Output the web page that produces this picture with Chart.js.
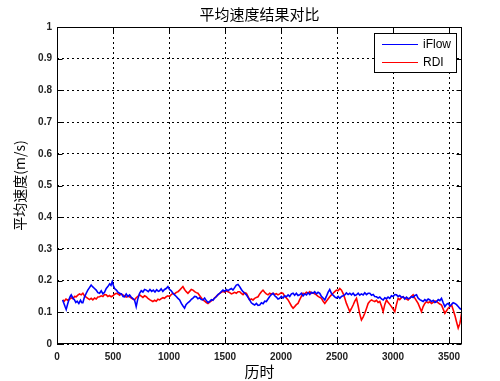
<!DOCTYPE html>
<html><head><meta charset="utf-8">
<script src="https://cdn.jsdelivr.net/npm/chart.js@4/dist/chart.umd.min.js"></script>
<style>html,body{margin:0;padding:0;background:#fff}#wrap{width:500px;height:381px}</style>
</head><body><div id="wrap"><canvas id="c" width="500" height="381"></canvas></div>
<script>
const chartTitle = '平均速度结果对比';
const xTitle = '历时';
const yTitle = '平均速度(m/s)';
const xTicks = [0, 500, 1000, 1500, 2000, 2500, 3000, 3500];
const yTicks = [0, 0.1, 0.2, 0.3, 0.4, 0.5, 0.6, 0.7, 0.8, 0.9, 1];
const xMin = 0, xMax = 3616;
const seriesNames = ['iFlow', 'RDI'];
const seriesColors = ['#0000ff', '#ff0000'];

const iflowX = [50,62,72,82,95,108,118,127,140,155,168,180,195,210,222,231,245,261,275,290,305,320,335,350,365,380,395,410,424,440,454,470,482,493,505,514,530,545,559,575,590,603,618,633,648,662,678,692,700,707,720,737,752,767,782,797,815,830,845,860,875,890,905,916,930,945,960,975,990,1005,1020,1035,1050,1065,1080,1095,1110,1125,1139,1152,1168,1184,1200,1214,1229,1244,1258,1273,1288,1303,1318,1333,1348,1363,1378,1392,1407,1422,1437,1452,1467,1482,1497,1512,1527,1542,1557,1571,1586,1601,1616,1631,1646,1661,1676,1691,1705,1720,1735,1750,1765,1780,1795,1810,1825,1840,1855,1869,1884,1899,1914,1929,1944,1958,1973,1988,2003,2018,2033,2048,2063,2078,2093,2108,2122,2137,2152,2167,2182,2197,2212,2227,2242,2257,2271,2286,2301,2316,2331,2346,2361,2376,2391,2405,2420,2435,2450,2465,2480,2495,2510,2525,2540,2554,2569,2584,2599,2614,2629,2644,2659,2674,2689,2703,2718,2733,2748,2763,2778,2793,2808,2823,2837,2853,2867,2882,2897,2912,2927,2942,2956,2971,2986,3001,3016,3031,3046,3060,3075,3090,3105,3120,3135,3150,3165,3180,3195,3210,3224,3239,3254,3269,3284,3299,3314,3329,3344,3359,3374,3389,3404,3418,3433,3448,3463,3478,3493,3508,3523,3537,3552,3567,3582,3597,3612];
const iflowY = [0.139,0.128,0.118,0.109,0.126,0.141,0.150,0.155,0.146,0.140,0.131,0.135,0.128,0.138,0.130,0.130,0.148,0.160,0.170,0.178,0.186,0.180,0.175,0.170,0.162,0.160,0.168,0.158,0.163,0.175,0.181,0.190,0.185,0.197,0.183,0.175,0.170,0.163,0.160,0.158,0.150,0.149,0.158,0.150,0.155,0.148,0.143,0.139,0.128,0.118,0.140,0.160,0.168,0.164,0.172,0.170,0.165,0.172,0.166,0.170,0.164,0.171,0.166,0.168,0.174,0.166,0.172,0.175,0.181,0.172,0.168,0.160,0.155,0.150,0.144,0.139,0.128,0.120,0.113,0.124,0.130,0.134,0.141,0.145,0.150,0.149,0.143,0.146,0.140,0.139,0.145,0.137,0.131,0.134,0.140,0.138,0.145,0.149,0.156,0.160,0.165,0.170,0.166,0.172,0.168,0.172,0.175,0.170,0.178,0.186,0.188,0.181,0.172,0.165,0.160,0.155,0.147,0.139,0.130,0.126,0.123,0.128,0.122,0.123,0.130,0.127,0.135,0.134,0.142,0.150,0.156,0.160,0.152,0.148,0.142,0.144,0.150,0.145,0.152,0.149,0.155,0.150,0.158,0.160,0.154,0.160,0.153,0.155,0.160,0.152,0.158,0.155,0.162,0.156,0.163,0.160,0.165,0.158,0.163,0.160,0.150,0.145,0.139,0.150,0.163,0.172,0.160,0.154,0.149,0.145,0.150,0.144,0.150,0.152,0.155,0.161,0.156,0.160,0.155,0.160,0.153,0.155,0.160,0.154,0.158,0.155,0.162,0.156,0.160,0.160,0.154,0.156,0.150,0.149,0.145,0.148,0.142,0.139,0.146,0.143,0.148,0.144,0.152,0.150,0.156,0.155,0.150,0.153,0.147,0.149,0.142,0.148,0.143,0.144,0.150,0.147,0.153,0.155,0.145,0.140,0.137,0.134,0.140,0.136,0.142,0.139,0.134,0.138,0.131,0.134,0.140,0.137,0.144,0.130,0.118,0.125,0.128,0.120,0.125,0.130,0.128,0.124,0.118,0.112,0.109];

const rdiX = [50,65,80,96,112,127,142,157,171,186,201,216,231,245,260,275,290,305,320,335,350,365,380,395,410,424,439,454,469,484,499,514,529,544,559,573,588,603,618,633,648,663,678,692,707,722,737,752,767,782,797,812,827,841,856,871,886,901,916,931,946,960,975,990,1005,1020,1035,1050,1065,1080,1095,1110,1124,1139,1154,1169,1184,1199,1214,1229,1244,1258,1273,1288,1303,1318,1333,1348,1363,1378,1392,1407,1422,1437,1452,1467,1482,1497,1512,1527,1542,1557,1571,1586,1601,1616,1631,1646,1661,1676,1691,1705,1720,1735,1750,1765,1780,1795,1810,1825,1839,1854,1869,1884,1899,1914,1929,1944,1958,1973,1988,2003,2018,2033,2048,2063,2078,2093,2108,2122,2137,2152,2167,2182,2197,2212,2227,2242,2257,2271,2286,2301,2316,2331,2346,2361,2376,2391,2405,2420,2435,2450,2465,2480,2495,2510,2525,2540,2554,2569,2584,2599,2614,2629,2644,2659,2674,2689,2703,2718,2733,2748,2763,2778,2793,2808,2823,2837,2853,2867,2882,2897,2912,2927,2942,2956,2971,2986,3001,3016,3031,3046,3060,3075,3090,3105,3120,3135,3150,3165,3180,3195,3210,3224,3239,3254,3269,3284,3299,3314,3329,3344,3359,3374,3389,3404,3418,3433,3448,3463,3478,3493,3508,3523,3537,3552,3567,3582,3597,3603,3612];
const rdiY = [0.139,0.135,0.142,0.138,0.141,0.146,0.143,0.150,0.149,0.154,0.158,0.155,0.160,0.152,0.148,0.144,0.140,0.144,0.139,0.145,0.142,0.148,0.149,0.152,0.150,0.156,0.155,0.150,0.153,0.149,0.152,0.157,0.160,0.158,0.154,0.158,0.155,0.152,0.148,0.151,0.149,0.145,0.142,0.139,0.146,0.150,0.155,0.151,0.147,0.152,0.149,0.144,0.140,0.137,0.134,0.138,0.135,0.141,0.139,0.143,0.146,0.144,0.149,0.152,0.150,0.156,0.160,0.158,0.163,0.165,0.170,0.176,0.181,0.172,0.165,0.160,0.166,0.172,0.170,0.165,0.162,0.160,0.153,0.146,0.139,0.135,0.131,0.128,0.132,0.136,0.139,0.145,0.150,0.155,0.160,0.163,0.166,0.164,0.168,0.165,0.162,0.158,0.160,0.163,0.160,0.165,0.165,0.160,0.156,0.162,0.160,0.150,0.139,0.142,0.139,0.144,0.147,0.149,0.158,0.165,0.170,0.163,0.158,0.155,0.160,0.157,0.160,0.156,0.159,0.155,0.158,0.162,0.160,0.150,0.145,0.139,0.130,0.120,0.113,0.118,0.124,0.128,0.140,0.150,0.160,0.158,0.163,0.160,0.165,0.160,0.162,0.158,0.155,0.150,0.147,0.144,0.135,0.128,0.135,0.142,0.149,0.155,0.160,0.165,0.170,0.168,0.175,0.170,0.160,0.145,0.128,0.115,0.102,0.112,0.123,0.135,0.144,0.120,0.095,0.076,0.085,0.097,0.112,0.128,0.135,0.139,0.136,0.134,0.138,0.131,0.134,0.120,0.102,0.125,0.139,0.132,0.125,0.118,0.110,0.102,0.125,0.144,0.140,0.146,0.149,0.144,0.142,0.139,0.145,0.150,0.155,0.145,0.136,0.128,0.115,0.102,0.118,0.128,0.134,0.130,0.133,0.128,0.131,0.136,0.134,0.130,0.126,0.123,0.110,0.097,0.105,0.113,0.118,0.123,0.108,0.091,0.070,0.050,0.065,0.076,0.097];

const toPoints = (xs, ys) => xs.map((x, i) => ({x: x, y: ys[i]}));

const tickFont = {family: '"Liberation Sans", Arial, sans-serif', size: 10, weight: 'bold'};
const cjkFont = '"Noto Sans CJK SC"';

const framePlugin = {
  id: 'frame',
  afterDatasetsDraw(chart) {
    const ctx = chart.ctx, a = chart.chartArea;
    const xs = chart.scales.x, ys = chart.scales.y;
    ctx.save();
    ctx.strokeStyle = '#000';
    ctx.lineWidth = 1;
    ctx.setLineDash([]);
    const L = Math.round(a.left) + 0.5, R = Math.round(a.right) - 0.5;
    const T = Math.round(a.top) + 0.5, B = Math.round(a.bottom) - 0.5;
    ctx.strokeRect(L, T, R - L, B - T);
    ctx.beginPath();
    xTicks.forEach(v => {
      const px = Math.round(xs.getPixelForValue(v)) + 0.5;
      ctx.moveTo(px, B); ctx.lineTo(px, B - 5);
      ctx.moveTo(px, T); ctx.lineTo(px, T + 5);
    });
    yTicks.forEach(v => {
      const py = Math.round(ys.getPixelForValue(v)) + 0.5;
      ctx.moveTo(L, py); ctx.lineTo(L + 5, py);
      ctx.moveTo(R, py); ctx.lineTo(R - 5, py);
    });
    ctx.stroke();
    ctx.restore();
  }
};

const legendPlugin = {
  id: 'boxLegend',
  afterDraw(chart) {
    const ctx = chart.ctx, a = chart.chartArea;
    const bw = 82, bh = 39;
    const bx = Math.round(a.right) - 6 - bw, by = Math.round(a.top) + 6;
    ctx.save();
    ctx.fillStyle = '#fff';
    ctx.fillRect(bx, by, bw, bh);
    ctx.strokeStyle = '#000';
    ctx.lineWidth = 1;
    ctx.setLineDash([]);
    ctx.strokeRect(bx + 0.5, by + 0.5, bw, bh);
    ctx.font = '12px "Liberation Sans", Arial, sans-serif';
    ctx.textBaseline = 'middle';
    ctx.textAlign = 'left';
    chart.data.datasets.forEach((ds, i) => {
      const ly = by + 11 + i * 18;
      ctx.strokeStyle = ds.borderColor;
      ctx.lineWidth = 1.2;
      ctx.beginPath();
      ctx.moveTo(bx + 8, ly + 0.5); ctx.lineTo(bx + 44, ly + 0.5);
      ctx.stroke();
      ctx.fillStyle = '#000';
      ctx.fillText(ds.label, bx + 49, ly + 1);
    });
    ctx.restore();
  }
};

new Chart(document.getElementById('c'), {
  type: 'line',
  data: {
    datasets: [
      {label: seriesNames[0], data: toPoints(iflowX, iflowY), borderColor: seriesColors[0], backgroundColor: seriesColors[0], borderWidth: 1.6, pointRadius: 0, tension: 0, fill: false},
      {label: seriesNames[1], data: toPoints(rdiX, rdiY), borderColor: seriesColors[1], backgroundColor: seriesColors[1], borderWidth: 1.6, pointRadius: 0, tension: 0, fill: false}
    ]
  },
  plugins: [framePlugin, legendPlugin],
  options: {
    responsive: false,
    animation: false,
    devicePixelRatio: 1,
    layout: {padding: {left: 0, right: 38, top: 0, bottom: 0}},
    plugins: {
      legend: {display: false},
      tooltip: {enabled: false},
      title: {display: true, text: chartTitle, fullSize: false, color: '#000',
        font: {family: cjkFont, size: 15, weight: 'normal'}, padding: {top: 5, bottom: 4}}
    },
    scales: {
      x: {
        type: 'linear', min: xMin, max: xMax,
        afterBuildTicks: s => { s.ticks = xTicks.map(v => ({value: v})); },
        afterFit: s => { s.height = 37; },
        ticks: {font: tickFont, color: '#222', padding: 7, maxRotation: 0, autoSkip: false, callback: v => String(v)},
        grid: {color: '#000', lineWidth: 1, drawTicks: false},
        border: {display: false, dash: [2, 3]},
        title: {display: true, text: xTitle, color: '#000', font: {family: cjkFont, size: 15, weight: 'normal'}, padding: {top: 0, bottom: 1}}
      },
      y: {
        type: 'linear', min: 0, max: 1,
        afterBuildTicks: s => { s.ticks = yTicks.map(v => ({value: v})); },
        afterFit: s => { s.width = 57; },
        ticks: {font: tickFont, color: '#222', padding: 5, autoSkip: false, callback: v => String(Math.round(v * 10) / 10)},
        grid: {color: '#000', lineWidth: 1, drawTicks: false},
        border: {display: false, dash: [2, 3]},
        title: {display: true, text: yTitle, color: '#000', font: {family: cjkFont, size: 14, weight: 'normal'}, padding: {top: 11, bottom: 0}}
      }
    }
  }
});
</script></body></html>
